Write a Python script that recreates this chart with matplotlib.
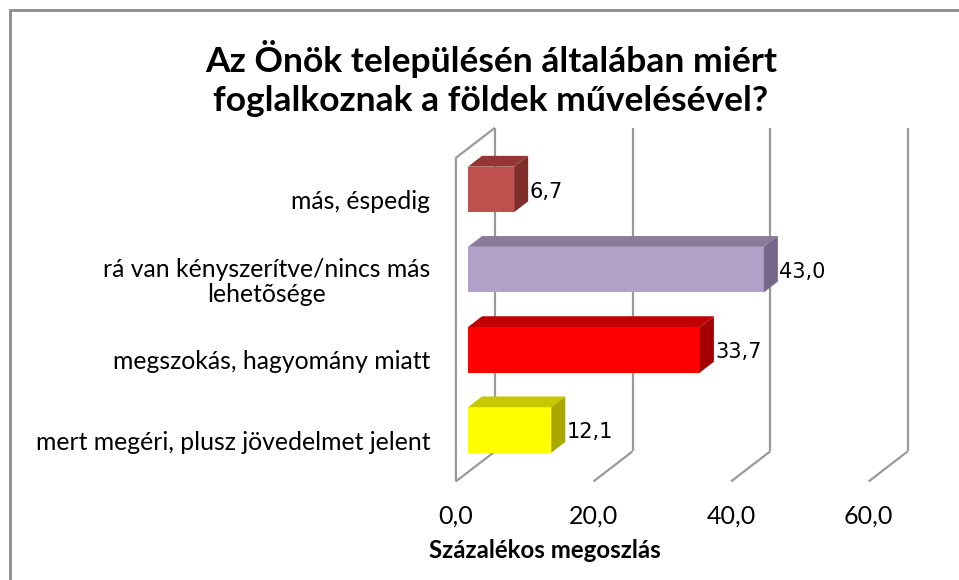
import matplotlib
matplotlib.use("Agg")
import matplotlib.pyplot as plt
from matplotlib.patches import Polygon, Rectangle

# Data (bottom to top)
categories = ["mert megéri, plusz jövedelmet jelent",
              "megszokás, hagyomány miatt",
              "rá van kényszerítve/nincs más\nlehetõsége",
              "más, éspedig"]
values = [12.1, 33.7, 43.0, 6.7]
value_labels = ["12,1", "33,7", "43,0", "6,7"]
ticks = [0, 20, 40, 60]
tick_labels = ["0,0", "20,0", "40,0", "60,0"]

# Colours: front, top, side
front_cols = ["#FFFF00", "#FF0000", "#B1A0C7", "#C0504D"]
top_cols = ["#C8C800", "#C00000", "#8B7B98", "#943634"]
side_cols = ["#A8A800", "#A50000", "#76678A", "#7F2D2B"]

W, H = 959, 580
fig = plt.figure(figsize=(W / 100, H / 100), dpi=100)

# axes placed so data units map onto the original pixel layout
px_unit, px_cat = 6.88, 80.2
x0_px, y0_px = 468, 430
ax_l, ax_r, ax_t, ax_b = 440, 930, 120, 495
ax = fig.add_axes([ax_l / W, 1 - ax_b / H, (ax_r - ax_l) / W, (ax_b - ax_t) / H])
ax.set_xlim((ax_l - x0_px) / px_unit, (ax_r - x0_px) / px_unit)
ax.set_ylim((y0_px - ax_b) / px_cat, (y0_px - ax_t) / px_cat)
ax.axis("off")

# 3D depth vector (front floor -> back wall), bar plane position
Dx, Dy = 39 / px_unit, 30 / px_cat
t_bar, t_depth = 0.31, 0.36
y_floor, y_top = -0.525, 3.51

def pt(v, y, t):
    return v + (t - t_bar) * Dx, y + (t - t_bar) * Dy

grid_kw = dict(color="#9A9A9A", lw=1.6, zorder=1, solid_capstyle="butt")
for g in ticks:
    xa, ya = pt(g, y_floor, 1)
    xb, yb = pt(g, y_top, 1)
    ax.plot([xa, xb], [ya, yb], **grid_kw)
    xc, yc = pt(g, y_floor, 0)
    ax.plot([xc, xa], [yc, ya], **grid_kw)
# left side wall
xa, ya = pt(0, y_floor, 0)
xb, yb = pt(0, y_top, 0)
xc, yc = pt(0, y_top, 1)
ax.plot([xa, xb, xc], [ya, yb, yc], **grid_kw)

# bars
bh = 45.5 / px_cat
dx, dy = t_depth * Dx, t_depth * Dy
ypos = list(range(len(values)))
ax.barh(ypos, values, height=bh, left=0, color=front_cols, zorder=3)
for i, v in enumerate(values):
    yt, yb_ = i + bh / 2, i - bh / 2
    ax.add_patch(Polygon([(0, yt), (v, yt), (v + dx, yt + dy), (dx, yt + dy)],
                         closed=True, fc=top_cols[i], ec="none", zorder=3))
    ax.add_patch(Polygon([(v, yb_), (v, yt), (v + dx, yt + dy), (v + dx, yb_ + dy)],
                         closed=True, fc=side_cols[i], ec="none", zorder=3))
    ax.text(v + dx + 0.15, i - 0.03, value_labels[i], ha="left", va="center",
            fontsize=15, family="DejaVu Sans", color="black", zorder=4)
    ax.text((430 - x0_px) / px_unit, i - 0.15, categories[i], ha="right",
            va="center", multialignment="center", fontsize=17.8, family="Lato",
            color="black", clip_on=False, linespacing=1.1)

for g, lab in zip(ticks, tick_labels):
    xf, _ = pt(g, y_floor, 0)
    ax.text(xf, (y0_px - 516) / px_cat, lab, ha="center", va="center",
            fontsize=18, family="Lato", clip_on=False)

fig.text(545 / W, 1 - 550 / H, "Százalékos megoszlás", ha="center", va="center",
         fontsize=17.3, family="Lato", fontweight="bold")
fig.text(491 / W, 1 - 78.5 / H, "Az Önök településén általában miért\nfoglalkoznak a földek művelésével?",
         ha="center", va="center", fontsize=25.5, family="Lato", fontweight="bold",
         linespacing=1.3)

# outer chart frame
fig.add_artist(Rectangle((10 / W, -0.1), 1.2, 1.1 - 10 / H, transform=fig.transFigure,
                         fill=False, ec="#8C8C8C", lw=2))

fig.savefig("out.png", dpi=100)
